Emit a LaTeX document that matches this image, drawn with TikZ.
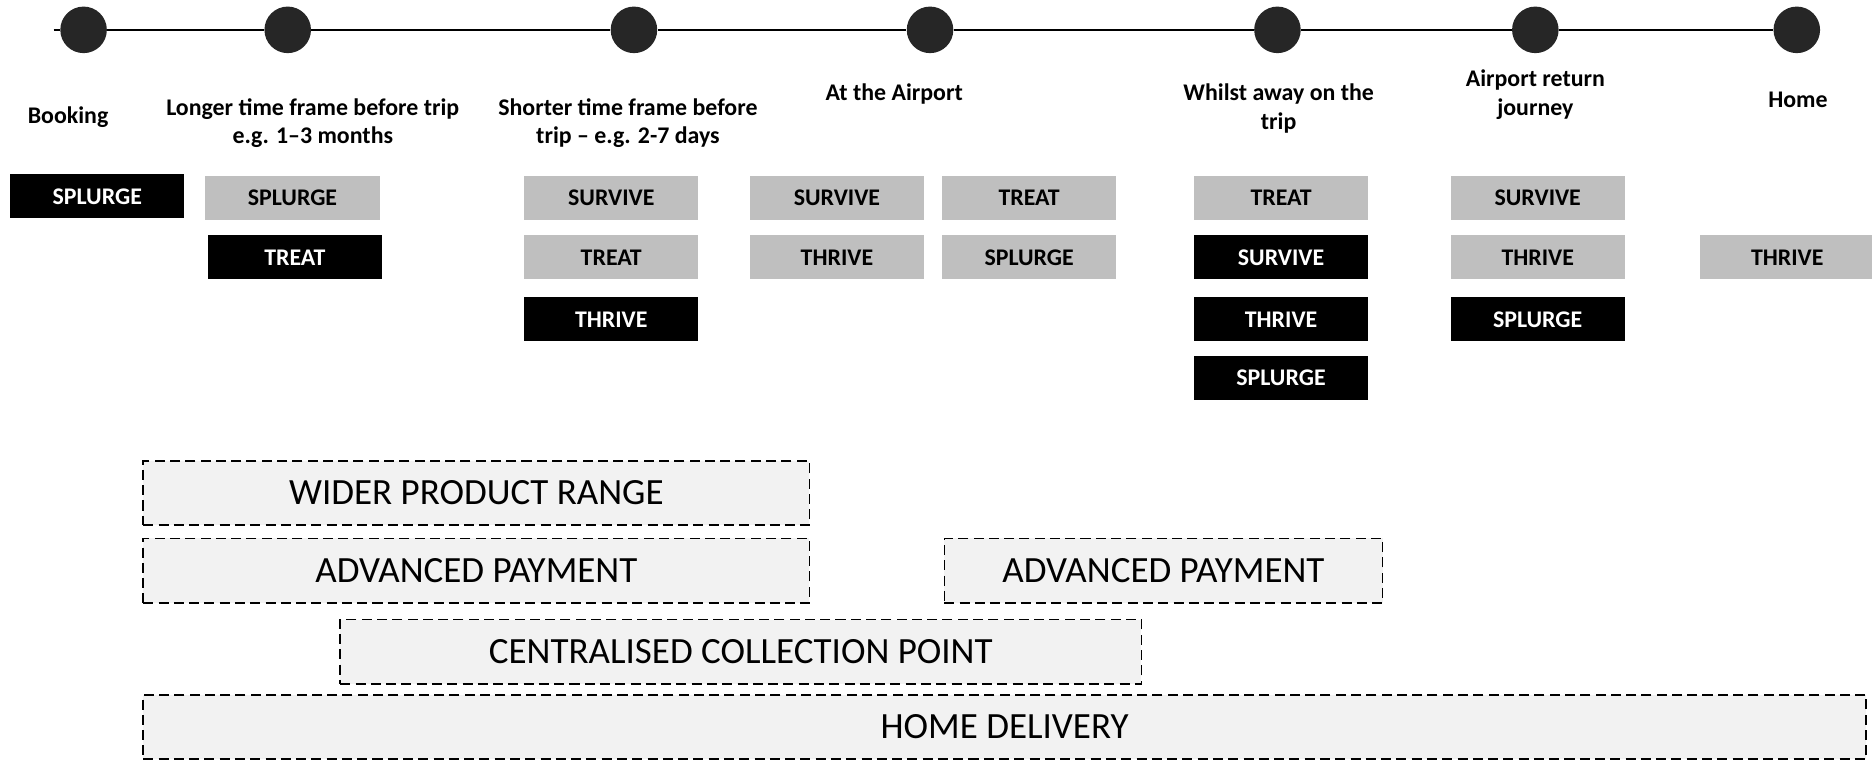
\documentclass[tikz,border=0pt]{standalone}
\usepackage{fontspec}
\setmainfont{Carlito}
\usetikzlibrary{positioning}
\definecolor{dotgrey}{HTML}{262626}
\definecolor{boxgrey}{HTML}{BFBFBF}
\definecolor{lightgrey}{HTML}{F2F2F2}
\begin{document}
\begin{tikzpicture}[x=0.5pt, y=-0.5pt,
  dot node/.style={circle, fill=dotgrey, minimum size=19.5pt, inner sep=0pt},
  stage node/.style={align=center, font=\fontsize{10}{12}\selectfont\bfseries},
  grey node/.style={fill=boxgrey, minimum width=73pt, minimum height=18.5pt, inner sep=0pt, font=\fontsize{10}{12}\selectfont\bfseries},
  dark node/.style={fill=black, text=white, minimum width=73pt, minimum height=18.5pt, inner sep=0pt, font=\fontsize{10}{12}\selectfont\bfseries},
  offer node/.style={draw=black, dash pattern=on 4.2pt off 2.2pt, line width=0.7pt, fill=lightgrey, minimum height=27pt, inner sep=0pt, font=\fontsize{15.5}{19}\selectfont}]
      \useasboundingbox (0,0) rectangle (1568,638);
      % timeline
      \coordinate (start) at (45, 25);
      \node[dot node] (c1) at (70, 25) {};
      \node[dot node] (c2) at (241, 25) {};
      \node[dot node] (c3) at (531, 25) {};
      \node[dot node] (c4) at (779, 25) {};
      \node[dot node] (c5) at (1070, 25) {};
      \node[dot node] (c6) at (1286, 25) {};
      \node[dot node] (c7) at (1505, 25) {};
      \draw[line width=1pt] (start) -- (c1) -- (c2) -- (c3) -- (c4) -- (c5) -- (c6) -- (c7);
      % stages
      \node[stage node] (booking) at (57, 98) {Booking};
      \node[stage node] (longer) at (262, 103) {Longer time frame before trip\\e.g. 1--3 months};
      \node[stage node] (shorter) at (526, 103) {Shorter time frame before\\trip -- e.g. 2-7 days};
      \node[stage node] (airport) at (749, 79) {At the Airport};
      \node[stage node] (away) at (1071, 91) {Whilst away on the\\trip};
      \node[stage node] (return) at (1286, 79) {Airport return\\journey};
      \node[stage node] (home) at (1506, 84) {Home};
      % modes
      \node[dark node] (b1) at (81.5, 164.5) {SPLURGE};
      \node[grey node] (l1) at (245, 165.5) {SPLURGE};
      \node[dark node] (l2) at (247, 215.5) {TREAT};
      \node[grey node] (s1) at (512, 165.5) {SURVIVE};
      \node[grey node] (s2) at (512, 215.5) {TREAT};
      \node[dark node] (s3) at (512, 267.5) {THRIVE};
      \node[grey node] (a1) at (701, 165.5) {SURVIVE};
      \node[grey node] (a2) at (701, 215.5) {THRIVE};
      \node[grey node] (a3) at (862, 165.5) {TREAT};
      \node[grey node] (a4) at (862, 215.5) {SPLURGE};
      \node[grey node] (w1) at (1073, 165.5) {TREAT};
      \node[dark node] (w2) at (1073, 215.5) {SURVIVE};
      \node[dark node] (w3) at (1073, 267.5) {THRIVE};
      \node[dark node] (w4) at (1073, 316.5) {SPLURGE};
      \node[grey node] (r1) at (1288, 165.5) {SURVIVE};
      \node[grey node] (r2) at (1288, 215.5) {THRIVE};
      \node[dark node] (r3) at (1288, 267.5) {SPLURGE};
      \node[grey node] (h1) at (1497, 215.5) {THRIVE};
      % offers
      \node[offer node, minimum width=279pt] (range) at (399, 413) {WIDER PRODUCT RANGE};
      \node[offer node, minimum width=279pt] (pay1) at (399, 478) {ADVANCED PAYMENT};
      \node[offer node, minimum width=183.5pt] (pay2) at (974.5, 478) {ADVANCED PAYMENT};
      \node[offer node, minimum width=335.5pt] (collect) at (620.5, 546) {CENTRALISED COLLECTION POINT};
      \node[offer node, minimum width=721.5pt] (delivery) at (841.5, 609) {HOME DELIVERY};
\end{tikzpicture}
\end{document}
